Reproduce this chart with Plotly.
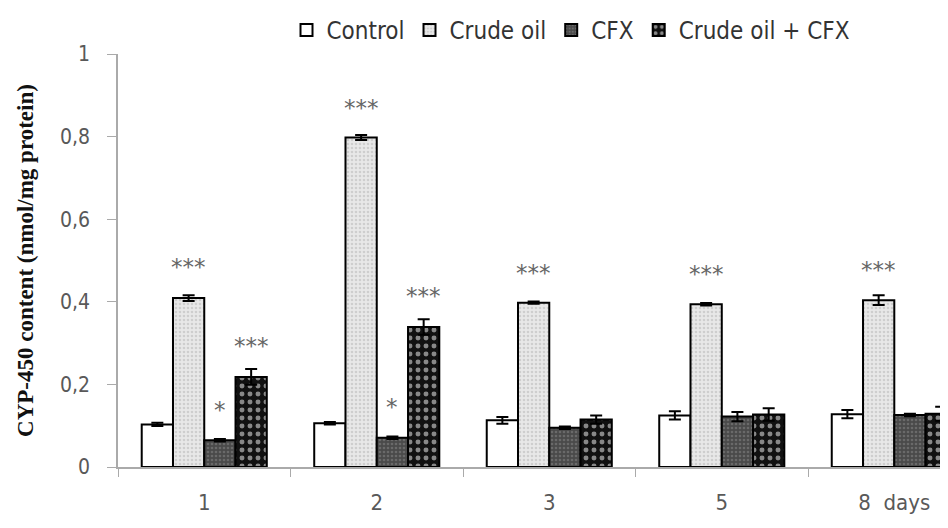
import plotly.graph_objects as go

categories = ["1", "2", "3", "5", "8  days"]
series_names = ["Control", "Crude oil", "CFX", "Crude oil + CFX"]
control = [0.103, 0.106, 0.113, 0.125, 0.128]
crude_oil = [0.409, 0.798, 0.398, 0.394, 0.404]
cfx = [0.065, 0.071, 0.095, 0.122, 0.126]
crude_cfx = [0.218, 0.339, 0.115, 0.127, 0.129]
control_err = [0.004, 0.003, 0.008, 0.010, 0.010]
crude_oil_err = [0.007, 0.006, 0.003, 0.003, 0.012]
cfx_err = [0.003, 0.003, 0.003, 0.011, 0.003]
crude_cfx_err = [0.019, 0.019, 0.010, 0.015, 0.017]
# significance marks: (category index, series index, text, y position)
sig_marks = [
    (0, 1, "***", 0.488), (0, 2, "*", 0.144), (0, 3, "***", 0.298),
    (1, 1, "***", 0.875), (1, 2, "*", 0.149), (1, 3, "***", 0.418),
    (2, 1, "***", 0.474), (3, 1, "***", 0.471), (4, 1, "***", 0.481),
]

values = [control, crude_oil, cfx, crude_cfx]
errors = [control_err, crude_oil_err, cfx_err, crude_cfx_err]
patterns = [
    dict(shape="", bgcolor="white"),
    dict(shape=".", bgcolor="#e8e8e8", fgcolor="#b4b4b4", size=4, solidity=0.35),
    dict(shape=".", bgcolor="#4a4a4a", fgcolor="#8a8a8a", size=4, solidity=0.35),
    dict(shape=".", bgcolor="#111111", fgcolor="#ffffff", size=8, solidity=0.3),
]
fills = ["white", "#e8e8e8", "#4a4a4a", "#111111"]

bargap = 0.275
fig = go.Figure()
for name, vals, errs, pat, fc in zip(series_names, values, errors, patterns, fills):
    fig.add_trace(go.Bar(
        x=categories, y=vals, name=name,
        marker=dict(color=fc, pattern=pat, line=dict(color="black", width=2)),
        error_y=dict(type="data", array=errs, color="black", thickness=2, width=6),
    ))

w = (1 - bargap) / 4
for ci, si, txt, yv in sig_marks:
    fig.add_annotation(x=ci + (si - 1.5) * w, y=yv, xref="x", yref="y", text=txt,
                       showarrow=False, yshift=-2,
                       font=dict(family="DejaVu Sans", size=23, color="#666"))

fig.update_layout(
    width=932, height=512,
    margin=dict(l=110, r=0, t=43, b=53),
    plot_bgcolor="white", paper_bgcolor="white",
    barmode="group", bargap=bargap, bargroupgap=0,
    separators=", ",
    showlegend=True,
    legend=dict(orientation="h", x=0.205, y=1.058, xanchor="left", yanchor="middle",
                font=dict(family="DejaVu Sans Condensed", size=24, color="#333"),
                itemwidth=30, tracegroupgap=0, bgcolor="rgba(0,0,0,0)"),
    font=dict(family="DejaVu Sans Condensed", color="#595959"),
)
fig.update_xaxes(
    type="category", range=[-0.5, 4.265],
    showline=True, linecolor="#aaa", linewidth=1.5,
    ticks="outside", tickson="boundaries", ticklen=8, tickcolor="#aaa",
    tickfont=dict(family="DejaVu Sans Condensed", size=22, color="#595959"),
    ticklabelstandoff=15,
)
fig.update_yaxes(
    range=[0, 1], dtick=0.2, showgrid=False, zeroline=False,
    showline=True, linecolor="#aaa", linewidth=1.5,
    ticks="outside", ticklen=9, tickcolor="#aaa",
    tickfont=dict(family="DejaVu Sans Condensed", size=21, color="#595959"),
    ticklabelstandoff=13,
    title=dict(text="<b>CYP-450 content (nmol/mg protein)</b>",
               font=dict(family="Liberation Serif", size=23, color="#111"), standoff=20),
)
fig.write_html("out.html")
